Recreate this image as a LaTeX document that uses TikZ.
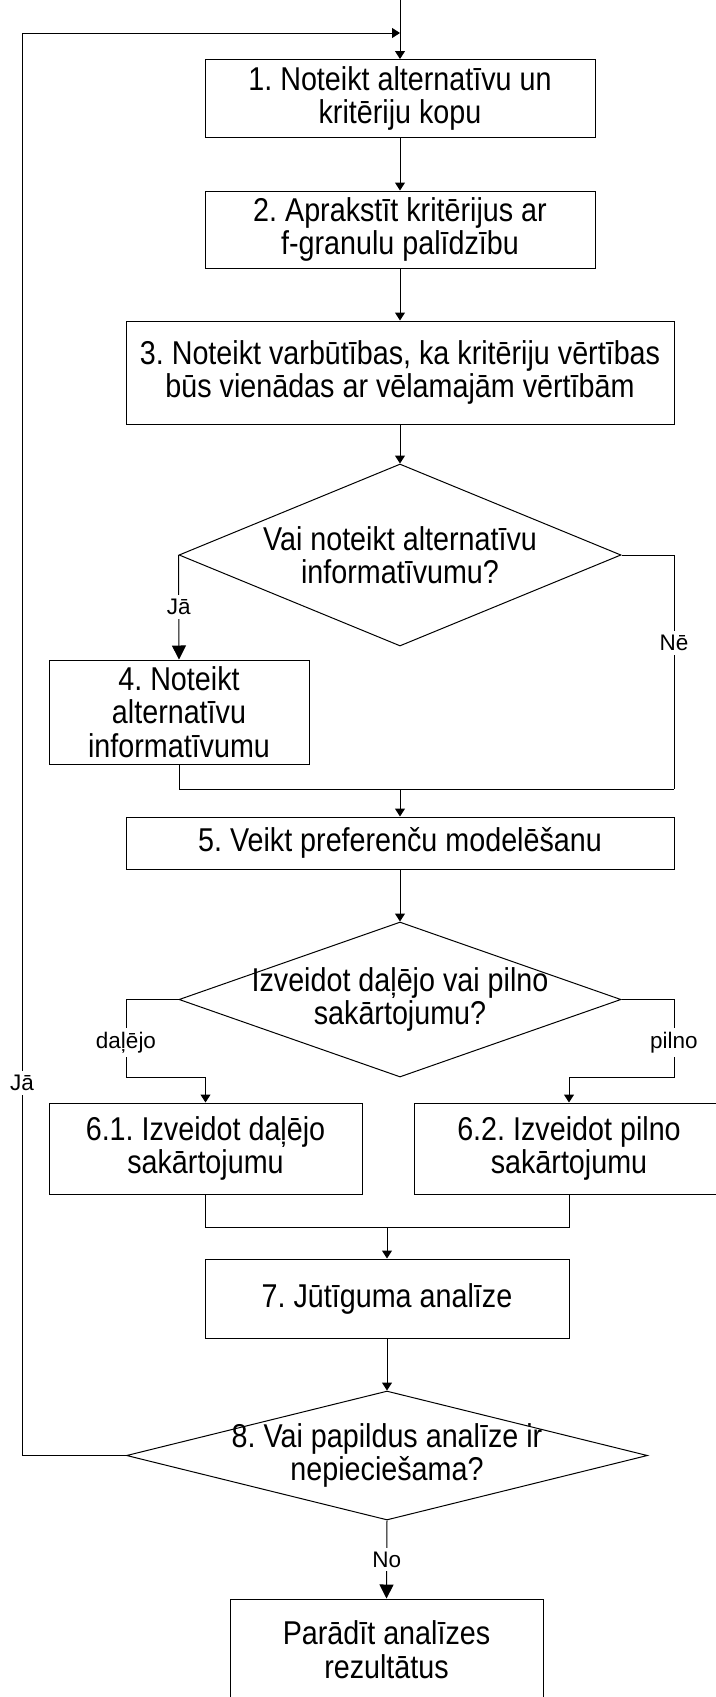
\documentclass[tikz,border=0pt]{standalone}
\usepackage{fontspec}
\setmainfont{Liberation Sans}
\newfontfamily\tallfont{Liberation Sans}[FakeStretch=0.87]
\usetikzlibrary{shapes.geometric,arrows.meta}
\newcommand\boxfnt{\tallfont\fontsize{33}{33.5}\selectfont}
\newcommand\lblfnt{\fontsize{22.5}{26}\selectfont}
\frenchspacing
\begin{document}
\begin{tikzpicture}[x=1pt,y=-1pt,line width=1pt,
  box/.style={draw,rectangle,inner sep=0pt,align=center,font=\boxfnt},
  dia/.style={draw,diamond,inner sep=0pt},
  dtext/.style={align=center,font=\boxfnt,inner sep=0pt},
  lbl/.style={fill=white,inner sep=4pt,font=\lblfnt},
  sa/.style={-{Triangle[width=10pt,length=8pt]}},
  la/.style={-{Triangle[width=14pt,length=14pt]}}]
\useasboundingbox (0,0) rectangle (715,1697);

% boxes
\node[box,minimum width=390pt,minimum height=78pt] (b1) at (400,98.5) {1. Noteikt alternatīvu un\\kritēriju kopu};
\node[box,minimum width=390pt,minimum height=77pt] (b2) at (400,229.5) {2. Aprakstīt kritērijus ar\\f-granulu palīdzību};
\node[box,minimum width=548pt,minimum height=103pt] (b3) at (400,372.5) {3. Noteikt varbūtības, ka kritēriju vērtības\\būs vienādas ar vēlamajām vērtībām};
\node[dia,minimum width=442pt,minimum height=182pt] (d1) at (400,555) {};
\node[dtext] (d1t) at (400,555) {Vai noteikt alternatīvu\\informatīvumu?};
\node[box,minimum width=260pt,minimum height=104pt] (b4) at (179,712) {4. Noteikt\\alternatīvu\\informatīvumu};
\node[box,minimum width=548pt,minimum height=52pt] (b5) at (400,843) {5. Veikt preferenču modelēšanu};
\node[dia,minimum width=442pt,minimum height=155pt] (d2) at (400,999.5) {};
\node[dtext] (d2t) at (400,999.5) {Izveidot daļējo vai pilno\\sakārtojumu?};
\node[box,minimum width=313pt,minimum height=91pt] (b61) at (205.5,1148.5) {6.1. Izveidot daļējo\\sakārtojumu};
\node[box,minimum width=310pt,minimum height=91pt] (b62) at (569,1148.5) {6.2. Izveidot pilno\\sakārtojumu};
\node[box,minimum width=364pt,minimum height=79pt] (b7) at (387,1298.5) {7. Jūtīguma analīze};
\node[dia,minimum width=521pt,minimum height=129pt] (d3) at (387,1455.5) {};
\node[dtext] (d3t) at (387,1455.5) {8. Vai papildus analīze ir\\nepieciešama?};
\node[box,minimum width=313pt,minimum height=101pt] (bf) at (386.5,1649.5) {Parādīt analīzes\\rezultātus};

% coordinates
\coordinate (top) at (400,0);
\coordinate (loopB) at (22,1455.5);
\coordinate (loopT) at (22,33);
\coordinate (loopE) at (400,33);
\coordinate (ne1) at (674,555);
\coordinate (ne2) at (674,789);
\coordinate (m1l) at (179,789);
\coordinate (m1) at (400,789);
\coordinate (dl1) at (126,999.5);
\coordinate (dl2) at (126,1077);
\coordinate (dl3) at (205.5,1077);
\coordinate (dr1) at (674,999.5);
\coordinate (dr2) at (674,1077);
\coordinate (dr3) at (569,1077);
\coordinate (m2l) at (205.5,1227);
\coordinate (m2r) at (569,1227);
\coordinate (m2) at (387,1227);

% connectors
\draw[sa] (top) -- (b1.north);
\draw[sa] (d3.west) -- (loopB) -- node[lbl,pos=0.262]{Jā} (loopT) -- (loopE);
\draw[sa] (b1.south) -- (b2.north);
\draw[sa] (b2.south) -- (b3.north);
\draw[sa] (b3.south) -- (d1.north);
\draw[la] (d1.west) -- node[lbl]{Jā} (b4.north);
\draw (d1.east) -- (ne1) -- node[lbl,pos=0.376]{Nē} (ne2);
\draw (b4.south) -- (m1l) -- (ne2);
\draw[sa] (m1) -- (b5.north);
\draw[sa] (b5.south) -- (d2.north);
\draw[sa] (d2.west) -- (dl1) -- node[lbl,pos=0.56]{daļējo} (dl2) -- (dl3) -- (b61.north);
\draw[sa] (d2.east) -- (dr1) -- node[lbl,pos=0.56]{pilno} (dr2) -- (dr3) -- (b62.north);
\draw (b61.south) -- (m2l) -- (m2r) -- (b62.south);
\draw[sa] (m2) -- (b7.north);
\draw[sa] (b7.south) -- (d3.north);
\draw[la] (d3.south) -- node[lbl]{No} (bf.north);
\end{tikzpicture}
\end{document}
